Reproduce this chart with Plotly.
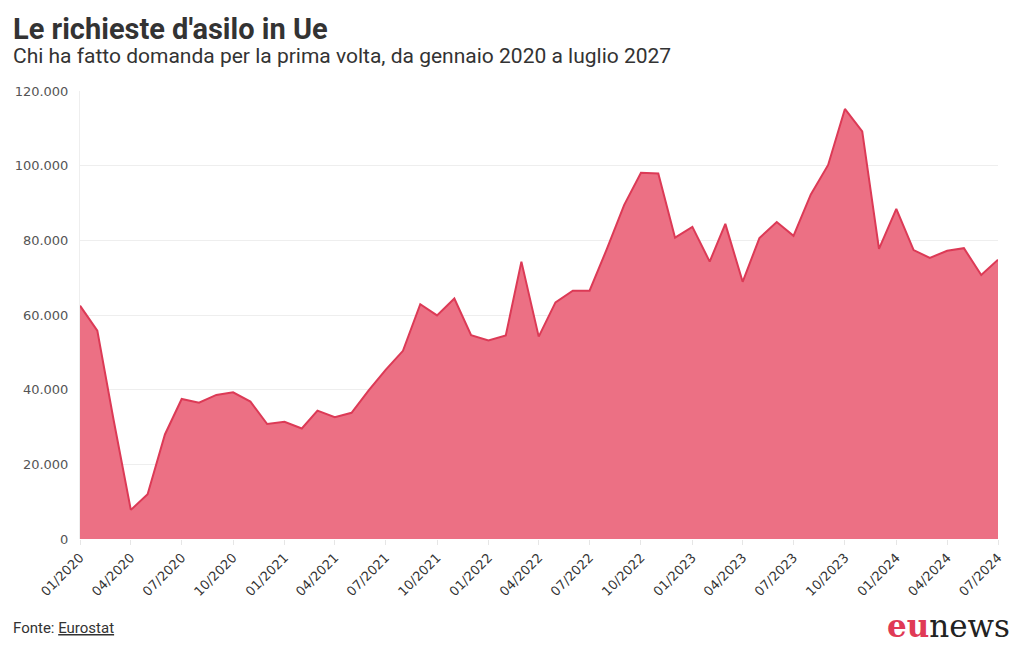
import pandas as pd
import plotly.graph_objects as go

months = pd.date_range("2020-01-01", "2024-07-01", freq="MS")

richieste = [
    62500, 55800, 32000, 7800, 12000, 28000, 37500, 36500, 38600, 39300, 36800, 30800,
    31400, 29600, 34400, 32600, 33800, 39900, 45300, 50400, 62900, 59900, 64400, 54600,
    53200, 54500, 74300, 54200, 63400, 66500, 66500, 77700, 89500, 98100, 97900, 80700,
    83600, 74300, 84400, 68900, 80600, 84900, 81200, 92300, 100200, 115200, 109200, 77700,
    88400, 77400, 75300, 77200, 77900, 70700, 74800,
]

y_ticks = [0, 20000, 40000, 60000, 80000, 100000, 120000]

TITLE = "Le richieste d'asilo in Ue"
SUBTITLE = "Chi ha fatto domanda per la prima volta, da gennaio 2020 a luglio 2027"

W, H = 1020, 650
ML, MR, MT, MB = 80, 22, 91, 111

fig = go.Figure()
fig.add_trace(go.Scatter(
    x=months, y=richieste, mode="lines",
    line=dict(color="#dc3a56", width=2),
    fill="tozeroy", fillcolor="rgba(236,112,132,1)",
    hovertemplate="%{x|%m/%Y}: %{y:,d}<extra></extra>",
))

fig.update_layout(
    width=W, height=H,
    margin=dict(l=ML, r=MR, t=MT, b=MB, autoexpand=False),
    paper_bgcolor="white", plot_bgcolor="white",
    separators=",.",
    showlegend=False,
    font=dict(family="Roboto, sans-serif", color="#444"),
    xaxis=dict(
        type="date",
        range=[months[0], months[-1]],
        tickformat="%m/%Y",
        dtick="M3",
        tick0=months[0],
        tickangle=-45,
        showgrid=False,
        ticks="outside", ticklen=5, tickcolor="#e6e6e6",
        tickfont=dict(family="DejaVu Sans, sans-serif", size=13, color="#333"),
        showline=False,
        zeroline=False,
        automargin=False,
    ),
    yaxis=dict(
        range=[0, 120000],
        tickvals=y_ticks,
        tickformat=",d",
        showgrid=True, gridcolor="#eeeeee", gridwidth=1,
        zeroline=False,
        showline=True, linecolor="#eeeeee", linewidth=1,
        tickfont=dict(family="DejaVu Sans, sans-serif", size=13, color="#555"),
        ticks="", ticklabelstandoff=8,
        automargin=False,
    ),
    annotations=[
        dict(text=f"<b>{TITLE}</b>", x=11, y=H - 10, xref="paper", yref="paper",
             showarrow=False, xanchor="left", yanchor="top",
             font=dict(family="Roboto, sans-serif", size=29, color="#333")),
        dict(text=SUBTITLE, x=11, y=H - 42, xref="paper", yref="paper",
             showarrow=False, xanchor="left", yanchor="top",
             font=dict(family="Roboto, sans-serif", size=21, color="#333")),
        dict(text="Fonte: <u>Eurostat</u>", x=11, y=22, xref="paper", yref="paper",
             showarrow=False, xanchor="left", yanchor="middle",
             font=dict(family="Roboto, sans-serif", size=15, color="#333")),
        dict(text="<b><span style='color:#e03a56'>eu</span></b>news", x=1012, y=24,
             xref="paper", yref="paper", showarrow=False, xanchor="right", yanchor="middle",
             font=dict(family="DejaVu Serif, serif", size=31, color="#222")),
    ],
)

# convert pixel positions for annotations to paper coords
for a in fig.layout.annotations:
    px, py = a.x, a.y
    a.x = (px - ML) / (W - ML - MR)
    a.y = (py - MB) / (H - MT - MB)

fig.write_html(
    "out.html",
    config={"displayModeBar": False},
    post_script="document.body.style.margin='0';document.body.style.overflow='hidden';",
)
